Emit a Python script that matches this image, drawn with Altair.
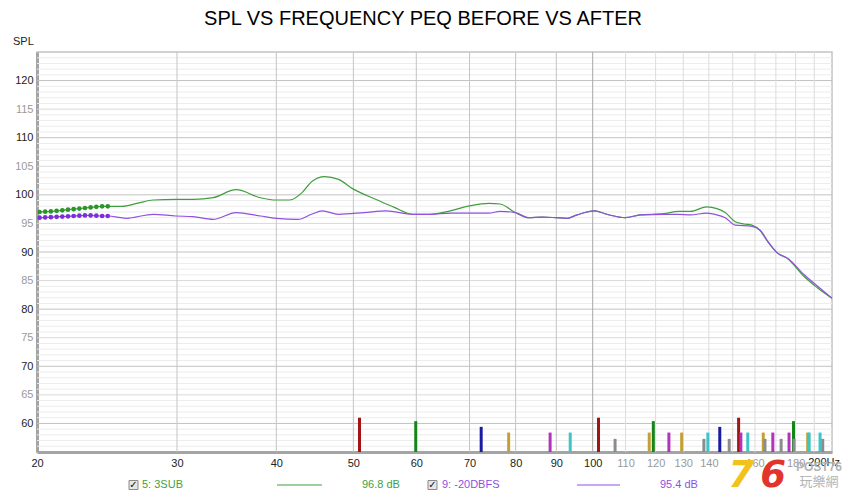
import altair as alt
import pandas as pd

# ---------------- data ----------------
dot_freq = [20.15, 20.48, 20.82, 21.17, 21.52, 21.88, 22.24, 22.61, 22.98, 23.36, 23.75, 24.15, 24.55]
green_dot_db = [97.0, 97.05, 97.1, 97.2, 97.3, 97.4, 97.5, 97.6, 97.7, 97.8, 97.9, 98.0, 98.0]
purple_dot_db = [96.0, 96.05, 96.1, 96.15, 96.2, 96.25, 96.3, 96.35, 96.4, 96.4, 96.35, 96.3, 96.3]

green_freq = [25.6, 26.7, 28.0, 29.9, 31.5, 33.3, 35.6, 38.2, 40.0, 41.6, 43.1, 44.3, 46.0, 47.9,
              50.0, 53.4, 56.3, 59.4, 62.5, 66.2, 70.2, 74.0, 76.5, 79.9, 83.1, 86.4, 90.0, 92.8,
              95.6, 100.5, 104.2, 109.9, 114.8, 122.8, 128.2, 132.7, 139.2, 143.3, 146.8, 151.1,
              155.0, 158.6, 162.5, 166.0, 170.5, 176.4, 184.2, 191.5, 200.0]
green_db = [98.0, 98.5, 99.1, 99.2, 99.2, 99.5, 100.9, 99.5, 99.1, 99.1, 100.4, 102.3, 103.2, 102.7,
            101.0, 99.2, 97.8, 96.6, 96.6, 97.2, 98.1, 98.5, 98.4, 96.9, 96.0, 96.1, 96.0, 95.9,
            96.5, 97.2, 96.6, 96.0, 96.5, 96.7, 97.1, 97.1, 97.9, 97.6, 96.9, 95.3,
            94.9, 94.7, 93.7, 91.8, 89.9, 88.7, 85.8, 83.8, 81.9]

purple_freq = [25.9, 28.0, 29.9, 31.4, 33.3, 35.6, 38.2, 40.0, 42.6, 44.3, 45.7, 47.9, 51.6, 55.0,
               59.4, 62.5, 66.2, 70.2, 74.0, 76.5, 79.9, 83.1, 86.4, 90.0, 92.8, 95.6, 100.5,
               104.2, 109.9, 114.8, 122.8, 128.2, 132.7, 139.2, 143.3, 146.8, 151.1, 158.6,
               162.5, 166.0, 170.5, 176.4, 184.2, 191.5, 200.0]
purple_db = [95.9, 96.6, 96.3, 96.2, 95.7, 96.9, 96.3, 95.9, 95.7, 96.6, 97.2, 96.6, 96.9, 97.2,
             96.6, 96.6, 96.8, 96.8, 96.8, 97.1, 96.9, 96.0, 96.1, 96.0, 95.9, 96.5, 97.2,
             96.6, 96.0, 96.5, 96.6, 96.6, 96.5, 96.8, 96.5, 96.0, 94.7, 94.5,
             93.8, 91.9, 89.9, 88.8, 86.1, 84.1, 81.9]

bar_freq = [50.9, 59.9, 72.4, 78.4, 88.4, 93.7, 101.7, 106.7, 117.8, 119.2, 124.7, 129.4, 138.0,
            139.6, 144.5, 148.5, 152.6, 153.6, 156.7, 163.9, 164.7, 168.5, 172.6, 176.6, 178.9,
            179.2, 186.4, 187.2, 193.2, 194.7]
bar_top = [61.0, 60.4, 59.4, 58.4, 58.4, 58.4, 61.0, 57.3, 58.4, 60.4, 58.4, 58.4, 57.3,
           58.4, 59.4, 57.3, 61.0, 58.4, 58.4, 58.4, 57.3, 58.4, 57.3, 58.4, 60.4,
           57.3, 58.4, 58.4, 58.4, 57.3]
bar_cat = ["red", "green", "blue", "gold", "magenta", "cyan", "red", "gray", "gold", "green",
           "magenta", "gold", "gray", "cyan", "blue", "gray", "red", "magenta", "cyan", "gold",
           "gray", "magenta", "gray", "magenta", "green", "gray", "gold", "cyan", "cyan", "gray"]
bar_domain = ["red", "green", "blue", "gold", "magenta", "cyan", "gray"]
bar_range = ["#a31515", "#17841a", "#1a1aa3", "#c4a034", "#b233bd", "#3cc4c8", "#8c8c8c"]

x_ticks = [20, 30, 40, 50, 60, 70, 80, 90, 100, 110, 120, 130, 140, 160, 180]
last_tick_label = "200Hz"
y_ticks = [60, 65, 70, 75, 80, 85, 90, 95, 100, 105, 110, 115, 120]
vgrid = [30, 40, 50, 60, 70, 80, 90, 100, 110, 120, 130, 140, 150, 160, 170, 180, 190]
hgrid_minor = [v for v in range(56, 125) if v % 5 != 0]
hgrid_mid = [v for v in range(60, 125, 5) if v % 10 != 0]
hgrid_major = [60, 70, 80, 90, 100, 110, 120]

GREEN = "#3f9f3f"
GREEN_DOT = "#2a962a"
PURPLE = "#9050e0"
PURPLE_DOT = "#7a30d8"
FONT = "Liberation Sans"

W, H = 795, 400
xs = alt.Scale(type="log", domain=[20, 200], nice=False)
ys = alt.Scale(domain=[55, 125], nice=False)

x_axis = alt.Axis(
    values=x_ticks, format="d", title=None, grid=False, ticks=False,
    labelColor=alt.expr("datum.value <= 100 ? '#222222' : '#9a9a9a'"),
    labelFont=FONT, labelFontSize=11, labelPadding=5, labelOverlap=False, labelFlush=False,
    domainColor="#a4a4a4", domainWidth=3)
y_axis = alt.Axis(
    values=y_ticks, title=None, grid=False, ticks=False,
    labelColor=alt.expr("datum.value % 10 == 0 ? '#222222' : '#9a9a9a'"),
    labelFont=FONT, labelFontSize=11, labelPadding=4, labelOverlap=False, labelFlush=False,
    domainColor="#a4a4a4", domainWidth=3)


def X(field):
    return alt.X(field, scale=xs, axis=x_axis)


def Y(field):
    return alt.Y(field, scale=ys, axis=y_axis)


# ---------------- frames ----------------
dots = pd.DataFrame({"f": dot_freq, "g": green_dot_db, "p": purple_dot_db})
green_df = pd.DataFrame({"f": dot_freq + green_freq, "db": green_dot_db + green_db})
purple_df = pd.DataFrame({"f": dot_freq + purple_freq, "db": purple_dot_db + purple_db})
bars = pd.DataFrame({"f": bar_freq, "top": bar_top, "cat": bar_cat})


def hrules(vals, color):
    return alt.Chart(pd.DataFrame({"v": vals})).mark_rule(color=color, strokeWidth=1).encode(
        y=Y("v:Q"))


grid_minor = hrules(hgrid_minor, "#ececec")
grid_mid = hrules(hgrid_mid, "#dadada")
grid_major = hrules(hgrid_major, "#c2c2c2")

vdf = pd.DataFrame({"v": vgrid, "c": ["#c4c4c4" if v < 100 else ("#a8a8a8" if v == 100 else "#dcdcdc") for v in vgrid]})
grid_v = alt.Chart(vdf).mark_rule(strokeWidth=1).encode(
    x=X("v:Q"), color=alt.Color("c:N", scale=None))

bar_layer = alt.Chart(bars).mark_rule(strokeWidth=3).encode(
    x=X("f:Q"),
    y=Y("top:Q"),
    y2=alt.datum(55),
    color=alt.Color("cat:N", scale=alt.Scale(domain=bar_domain, range=bar_range), legend=None),
)

green_line = alt.Chart(green_df).mark_line(color=GREEN, strokeWidth=1.2, interpolate="monotone").encode(
    x=X("f:Q"), y=Y("db:Q"))
purple_line = alt.Chart(purple_df).mark_line(color=PURPLE, strokeWidth=1.2, interpolate="monotone").encode(
    x=X("f:Q"), y=Y("db:Q"))
green_dots = alt.Chart(dots).mark_circle(color=GREEN_DOT, size=22, opacity=1).encode(
    x=X("f:Q"), y=Y("g:Q"))
purple_dots = alt.Chart(dots).mark_circle(color=PURPLE_DOT, size=22, opacity=1).encode(
    x=X("f:Q"), y=Y("p:Q"))


def label(text, x, y, color, size=11, align="left", font=FONT, baseline="middle", **kw):
    return alt.Chart(pd.DataFrame({"t": [text]})).mark_text(
        align=align, baseline=baseline, color=color, fontSize=size, font=font, **kw
    ).encode(x=alt.value(x), y=alt.value(y), text="t:N")


def checkbox(x, y):
    box = alt.Chart(pd.DataFrame({"a": [0]})).mark_rect(
        fill="#e6e6e6", stroke="#8a8a8a", strokeWidth=1).encode(
        x=alt.value(x), x2=alt.value(x + 9), y=alt.value(y - 4.5), y2=alt.value(y + 4.5))
    tick = label("✓", x + 4.5, y, "#111111", size=10, align="center", font="DejaVu Sans", fontWeight="bold")
    return box + tick


def legline(x1, x2, y, color):
    return alt.Chart(pd.DataFrame({"a": [0]})).mark_rule(color=color, strokeWidth=1).encode(
        x=alt.value(x1), x2=alt.value(x2), y=alt.value(y))


LY = 433
texts = [
    label("SPL VS FREQUENCY PEQ BEFORE VS AFTER", 386, -33, "#000000", size=20, align="center"),
    label("SPL", -24, -10, "#222222", size=11),
    label(last_tick_label, 803, 405, "#222222", size=11, align="right", baseline="top"),
    checkbox(92, LY),
    label("5: 3SUB", 105, LY, GREEN, size=11),
    legline(240, 285, LY, GREEN),
    label("96.8 dB", 325, LY, GREEN, size=11),
    checkbox(391, LY),
    label("9: -20DBFS", 405, LY, PURPLE, size=11),
    legline(540, 583, LY, PURPLE),
    label("95.4 dB", 623, LY, PURPLE, size=11),
    label("7", 704, 435, "#f2c21c", size=37, align="center", baseline="alphabetic", font="DejaVu Sans", fontWeight="bold", fontStyle="italic"),
    label("6", 736, 435, "#e3342c", size=37, align="center", baseline="alphabetic", font="DejaVu Sans", fontWeight="bold", fontStyle="italic"),
    label("POST76", 782, 415, "#b4b4b4", size=12, align="center", font=FONT, fontWeight="bold"),
    label("玩樂網", 782, 430, "#b4b4b4", size=13, align="center", font="Noto Sans CJK TC"),
]

chart = alt.layer(
    grid_minor, grid_mid, grid_major, grid_v, bar_layer,
    green_line, purple_line, green_dots, purple_dots, *texts
).properties(
    width=W, height=H,
    padding={"left": 29, "top": 44, "right": 10, "bottom": 38},
    autosize=alt.AutoSizeParams(type="none"),
    background="#ffffff",
).configure_view(stroke="#c4c4c4", strokeWidth=1.5)

chart.save("out.html", embed_options={"renderer": "svg", "actions": False})
